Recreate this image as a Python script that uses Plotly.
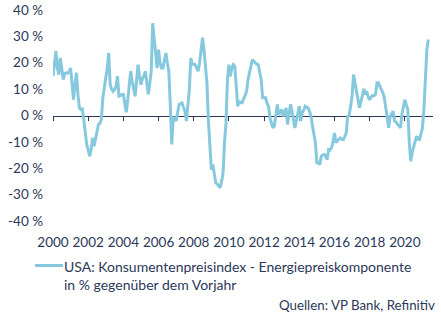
import plotly.graph_objects as go

# Monthly YoY change of the US CPI energy component, Jan 2000 - May 2021 (in %)
values_by_year = {
    2000: [14.9, 20.0, 24.4, 18.0, 15.5, 21.8, 18.0, 13.6, 16.0, 16.2, 16.0, 16.5],
    2001: [18.0, 12.0, 6.0, 12.0, 16.2, 8.0, 2.9, 2.3, 2.5, -1.5, -7.0, -11.0],
    2002: [-13.0, -15.4, -13.0, -8.5, -11.6, -9.0, -6.0, -3.4, -3.0, -1.5, 6.7, 10.0],
    2003: [13.0, 18.0, 23.7, 11.7, 10.0, 9.2, 9.8, 11.0, 14.9, 7.3, 7.5, 8.0],
    2004: [8.0, 4.0, 1.2, 6.0, 12.0, 16.8, 13.0, 10.0, 7.3, 13.0, 19.3, 15.0],
    2005: [11.7, 14.0, 15.0, 16.8, 12.0, 8.0, 12.0, 16.8, 35.0, 29.4, 22.0, 18.0],
    2006: [25.0, 20.0, 18.0, 18.0, 21.0, 23.7, 20.0, 16.8, 4.2, -11.0, -0.9, -1.0],
    2007: [-2.1, 1.0, 4.2, 4.5, 4.8, 3.0, 1.6, -2.1, 5.0, 9.8, 21.8, 19.3],
    2008: [19.5, 19.3, 18.0, 16.8, 20.0, 25.6, 29.5, 25.0, 18.0, 12.4, -2.0, -14.0],
    2009: [-20.5, -18.6, -22.0, -25.5, -26.0, -26.8, -27.4, -25.0, -21.7, -10.0, -2.8, 13.6],
    2010: [19.3, 14.9, 18.0, 19.3, 18.7, 11.1, 3.5, 5.4, 4.8, 4.8, 6.0, 7.3],
    2011: [9.0, 13.6, 16.0, 19.0, 21.2, 20.5, 19.9, 19.5, 19.3, 17.0, 13.6, 6.7],
    2012: [6.7, 6.7, 4.6, 3.5, -1.0, -3.4, -4.7, -4.0, -0.3, 4.2, 0.4, 1.0],
    2013: [2.3, -0.3, 1.0, 2.9, -3.4, 1.0, 4.2, 1.6, -1.0, -4.7, -2.0, 0.4],
    2014: [3.5, -2.1, 1.0, 2.0, 3.5, 3.0, 2.9, 1.5, -0.3, -4.0, -7.0, -10.3],
    2015: [-17.9, -18.0, -18.6, -15.4, -15.0, -14.8, -15.5, -16.7, -12.9, -13.0, -12.2, -10.0],
    2016: [-6.6, -10.3, -9.5, -9.1, -8.5, -9.0, -9.1, -8.0, -6.6, -0.3, 0.0, 3.5],
    2017: [7.3, 15.5, 12.0, 9.8, 5.0, 2.9, 5.0, 7.3, 10.1, 8.0, 9.2, 7.0],
    2018: [6.0, 7.0, 7.6, 7.5, 8.0, 12.4, 12.4, 11.0, 9.8, 8.6, 6.7, 2.3],
    2019: [0.0, -4.7, -0.3, 1.0, 1.6, -2.1, -2.5, -3.4, -4.0, -4.7, 0.4, 3.0],
    2020: [6.0, 4.0, 2.3, -10.0, -17.3, -14.0, -12.2, -10.0, -7.8, -9.0, -9.1, -7.0],
    2021: [-4.7, 2.3, 13.0, 25.0, 28.8],
}

x_ticks = list(range(2000, 2021, 2))
x_tick_labels = [str(y) for y in x_ticks]
y_ticks = [-40, -30, -20, -10, 0, 10, 20, 30, 40]
y_tick_labels = [f"{v} %" for v in y_ticks]

series_name = "USA: Konsumentenpreisindex - Energiepreiskomponente<br>in % gegenüber dem Vorjahr"
source_text = "Quellen: VP Bank, Refinitiv"

# build monthly time axis (decimal years)
x_vals, y_vals = [], []
for yr, vals in values_by_year.items():
    for m, v in enumerate(vals):
        x_vals.append(yr + m / 12.0)
        y_vals.append(v)

LINE = "#86c9de"
TEXT = "#2b3859"
FONT = "Lato"

W, H = 441, 322
ML, MR, MT, MB = 53, 8, 10, 101
x_range = [2000, 2021.6]
y_range = [-40, 40]

def px_x(p):
    return (p - ML) / (W - ML - MR)

def px_y(p):
    return (H - MB - p) / (H - MT - MB)

fig = go.Figure()
# invisible copy on the bottom axis so its year labels are drawn
fig.add_trace(go.Scatter(
    x=x_vals, y=y_vals, mode="lines", xaxis="x", opacity=0,
    line=dict(color=LINE, width=0.1), showlegend=False, hoverinfo="skip",
))
fig.add_trace(go.Scatter(
    x=x_vals, y=y_vals, mode="lines", xaxis="x2",
    line=dict(color=LINE, width=3), showlegend=False, hoverinfo="skip",
))

zero_pos = (0 - y_range[0]) / (y_range[1] - y_range[0])

fig.update_layout(
    width=W, height=H,
    margin=dict(l=ML, r=MR, t=MT, b=MB, autoexpand=False),
    paper_bgcolor="white", plot_bgcolor="white",
    font=dict(family=FONT, size=13, color=TEXT),
    xaxis=dict(
        range=x_range, tickvals=x_ticks, ticktext=x_tick_labels,
        showgrid=False, zeroline=False, showline=False, ticks="",
        automargin=False,
        ticklabelstandoff=11, tickfont=dict(size=13.5, color=TEXT),
    ),
    xaxis2=dict(
        range=x_range, overlaying="x", anchor="free", position=zero_pos,
        side="bottom", tickvals=x_ticks, showticklabels=False,
        showgrid=False, zeroline=False, showline=True, linecolor=TEXT,
        linewidth=1.3, ticks="outside", ticklen=4, tickwidth=1.2,
        tickcolor=TEXT, layer="below traces", automargin=False,
    ),
    yaxis=dict(
        range=y_range, tickvals=y_ticks, ticktext=y_tick_labels,
        showgrid=False, zeroline=False, showline=False, ticks="",
        automargin=False,
        ticklabelstandoff=9, tickfont=dict(size=13.5, color=TEXT),
    ),
)

# legend (sample line + label) and source note
fig.add_shape(type="line", xref="paper", yref="paper",
              x0=px_x(35), x1=px_x(63), y0=px_y(265.5), y1=px_y(265.5),
              line=dict(color=LINE, width=3))
fig.add_annotation(xref="paper", yref="paper", x=px_x(62), y=px_y(256),
                   xanchor="left", yanchor="top", align="left",
                   text=series_name, showarrow=False,
                   font=dict(family=FONT, size=14, color=TEXT))
fig.add_annotation(xref="paper", yref="paper", x=px_x(437), y=px_y(305),
                   xanchor="right", yanchor="middle", align="right",
                   text=source_text, showarrow=False,
                   font=dict(family=FONT, size=13.3, color=TEXT))

fig.write_html("out.html")
